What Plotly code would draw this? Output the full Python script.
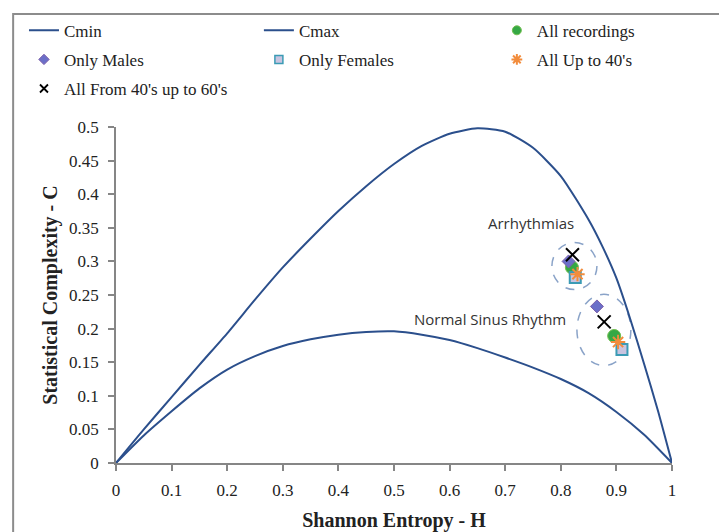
import plotly.graph_objects as go

# ---- data ----
h_max = [0, 0.05, 0.1, 0.15, 0.2, 0.25, 0.3, 0.35, 0.4, 0.45, 0.5, 0.55, 0.6, 0.65,
         0.7, 0.75, 0.8, 0.85, 0.875, 0.9, 0.925, 0.95, 0.975, 1.0]
c_max = [0, 0.050, 0.098, 0.146, 0.193, 0.243, 0.291, 0.334, 0.375, 0.412, 0.445, 0.472,
         0.490, 0.498, 0.493, 0.469, 0.427, 0.362, 0.322, 0.275, 0.214, 0.147, 0.077, 0]
h_min = [0, 0.05, 0.1, 0.15, 0.2, 0.25, 0.3, 0.35, 0.4, 0.45, 0.5, 0.55, 0.6, 0.65,
         0.7, 0.75, 0.8, 0.85, 0.9, 0.95, 1.0]
c_min = [0, 0.041, 0.077, 0.111, 0.139, 0.159, 0.174, 0.184, 0.191, 0.195, 0.196, 0.191,
         0.183, 0.171, 0.157, 0.142, 0.125, 0.104, 0.076, 0.042, 0]

all_h = [0.820, 0.896]
all_c = [0.291, 0.189]
males_h = [0.814, 0.865]
males_c = [0.300, 0.233]
females_h = [0.826, 0.910]
females_c = [0.276, 0.169]
up40_h = [0.830, 0.903]
up40_c = [0.281, 0.180]
from40_h = [0.821, 0.878]
from40_c = [0.310, 0.210]

x_ticks = [0, 0.1, 0.2, 0.3, 0.4, 0.5, 0.6, 0.7, 0.8, 0.9, 1]
x_ticktext = ["0", "0.1", "0.2", "0.3", "0.4", "0.5", "0.6", "0.7", "0.8", "0.9", "1"]
y_ticks = [0, 0.05, 0.1, 0.15, 0.2, 0.25, 0.3, 0.35, 0.4, 0.45, 0.5]
y_ticktext = ["0", "0.05", "0.1", "0.15", "0.2", "0.25", "0.3", "0.35", "0.4", "0.45", "0.5"]

# group annotations (data units)
arr_ellipse = dict(x0=0.784, x1=0.865, y0=0.258, y1=0.328)
nsr_ellipse = dict(x0=0.829, x1=0.926, y0=0.145, y1=0.251)

CURVE = "#2b4f8c"
GREEN_F, GREEN_L = "#35a845", "#72bf50"
DIA_F, DIA_L = "#6b6fc8", "#7d5fab"
SQ_F, SQ_L = "#c9c4e0", "#3b9bb5"
ORANGE = "#f28c3c"
SERIF = "Liberation Serif"
TXT = "#222222"

fig = go.Figure()
fig.add_trace(go.Scatter(x=h_min, y=c_min, mode="lines", name="Cmin",
                         line=dict(color=CURVE, width=2, shape="spline", smoothing=0.6),
                         legend="legend", legendgroup="g1", legendrank=1))
fig.add_trace(go.Scatter(x=h_max, y=c_max, mode="lines", name="Cmax",
                         line=dict(color=CURVE, width=2, shape="spline", smoothing=0.6),
                         legend="legend2", legendgroup="g2", legendrank=1))

series = [
    ("All recordings", all_h, all_c,
     dict(symbol="circle", size=13, color=GREEN_F, line=dict(color=GREEN_L, width=1)),
     dict(symbol="circle", size=9, color=GREEN_F, line=dict(color=GREEN_L, width=1)),
     "legend3", 1),
    ("Only Males", males_h, males_c,
     dict(symbol="diamond", size=10, color=DIA_F, line=dict(color=DIA_L, width=1)),
     dict(symbol="diamond", size=8, color=DIA_F, line=dict(color=DIA_L, width=1)),
     "legend", 2),
    ("Only Females", females_h, females_c,
     dict(symbol="square", size=11, color=SQ_F, line=dict(color=SQ_L, width=2)),
     dict(symbol="square", size=8, color=SQ_F, line=dict(color=SQ_L, width=1.5)),
     "legend2", 2),
    ("All Up to 40's", up40_h, up40_c,
     dict(symbol="asterisk-open", size=12, color=ORANGE, line=dict(color=ORANGE, width=2)),
     dict(symbol="asterisk-open", size=9, color=ORANGE, line=dict(color=ORANGE, width=2)),
     "legend3", 2),
    ("All From 40's up to 60's", from40_h, from40_c,
     dict(symbol="x-thin-open", size=13, color="black", line=dict(color="black", width=2)),
     dict(symbol="x-thin-open", size=8, color="black", line=dict(color="black", width=1.8)),
     "legend", 3),
]
for name, hx, cy, mk, _, _, _ in series:
    fig.add_trace(go.Scatter(x=hx, y=cy, mode="markers", name=name, marker=mk,
                             showlegend=False))
for i, (name, hx, cy, _, lmk, lg, rank) in enumerate(series):
    fig.add_trace(go.Scatter(x=[None], y=[None], mode="markers", name=name,
                             marker=lmk, legend=lg, legendgroup="m%d" % i,
                             legendrank=rank))

for e in (arr_ellipse, nsr_ellipse):
    fig.add_shape(type="circle", xref="x", yref="y", layer="below",
                  line=dict(color="#8aa3c8", width=1.5, dash="dash"), **e)

# outer frame
fig.add_shape(type="rect", xref="paper", yref="paper", x0=-0.185, y0=-1, x1=2, y1=1.336,
              line=dict(color="#8c8c8c", width=2), layer="below")

fig.add_annotation(x=0.747, y=0.357, text="Arrhythmias", showarrow=False,
                   font=dict(family="Open Sans", size=15, color="#333333"))
fig.add_annotation(x=0.673, y=0.214, text="Normal Sinus Rhythm", showarrow=False,
                   font=dict(family="Open Sans", size=15, color="#333333"))

axis_common = dict(showgrid=False, zeroline=False, showline=True, linecolor="#868686",
                   linewidth=1.5, ticks="outside", ticklen=6, tickcolor="#868686",
                   tickwidth=1.5, automargin=False,
                   tickfont=dict(family=SERIF, size=17, color=TXT))
fig.update_xaxes(range=[0, 1], tickvals=x_ticks, ticktext=x_ticktext,
                 ticklabelstandoff=5,
                 title=dict(text="<b>Shannon Entropy - H</b>", standoff=14,
                            font=dict(family=SERIF, size=20, color=TXT)),
                 **axis_common)
fig.update_yaxes(range=[0, 0.5], tickvals=y_ticks, ticktext=y_ticktext,
                 ticklabelstandoff=6,
                 title=dict(text="<b>Statistical Complexity - C</b>", standoff=6,
                            font=dict(family=SERIF, size=20, color=TXT)),
                 **axis_common)

legend_common = dict(orientation="v", y=1.34, xanchor="left", yanchor="top",
                     traceorder="grouped", tracegroupgap=4,
                     font=dict(family=SERIF, size=17, color=TXT),
                     bgcolor="rgba(0,0,0,0)")

# the page body adds an 8px offset, so the figure is 8px smaller on each axis
fig.update_layout(
    width=719, height=524,
    margin=dict(l=108, r=55, t=119, b=69, autoexpand=False),
    paper_bgcolor="white", plot_bgcolor="white",
    showlegend=True,
    legend=dict(x=-0.1655, **legend_common),
    legend2=dict(x=0.257, **legend_common),
    legend3=dict(x=0.685, **legend_common),
)

fig.write_html("out.html")
